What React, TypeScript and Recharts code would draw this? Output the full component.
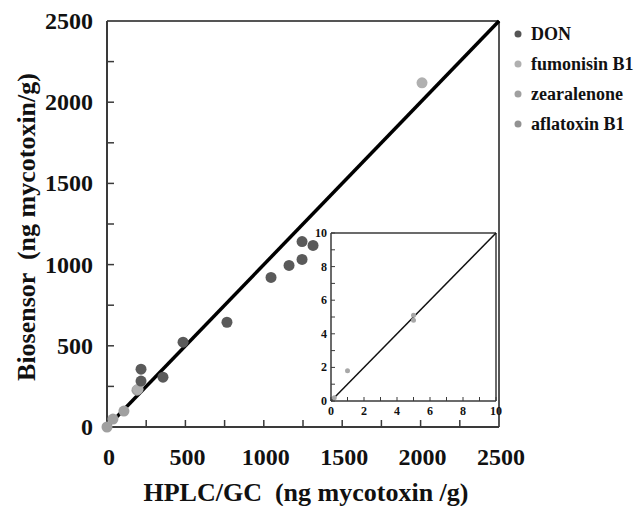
import React from 'react';
import {
  ScatterChart,
  Scatter,
  XAxis,
  YAxis,
  ReferenceLine,
} from 'recharts';

// main plot, ng mycotoxin / g : [HPLC/GC, Biosensor]
const donPoints = [
  [217, 283], [217, 356], [357, 307], [485, 522], [765, 645],
  [1046, 921], [1161, 995], [1244, 1032], [1244, 1142], [1314, 1118],
];
const fumonisinPoints = [[198, 233], [2009, 2119]];
const zearalenonePoints = [[0, 0], [38, 49], [108, 98], [191, 227]];

// inset, low range (aflatoxin B1)
const aflatoxinPoints = [[0.2, 0.2], [1, 1.8], [5, 5.1], [5, 4.8]];

const mainTicks = [0, 250, 500, 750, 1000, 1250, 1500, 1750, 2000, 2250, 2500];
const mainLabels = [0, 500, 1000, 1500, 2000, 2500];
const insetTicks = [0, 1, 2, 3, 4, 5, 6, 7, 8, 9, 10];
const insetLabels = [0, 2, 4, 6, 8, 10];

const legendItems = [
  { name: 'DON', color: '#555555' },
  { name: 'fumonisin B1', color: '#b0b0b0' },
  { name: 'zearalenone', color: '#a0a0a0' },
  { name: 'aflatoxin B1', color: '#929292' },
];

const toXY = (pts: number[][]) => pts.map(([x, y]) => ({ x, y }));

const FONT = '"Liberation Serif", "Times New Roman", serif';
const AXIS = '#3a3a3a';

const dot = (color: string, r: number) => (props: any) => {
  const { cx, cy } = props;
  if (cx == null || cy == null) return <g />;
  return <circle cx={cx} cy={cy} r={r} fill={color} />;
};

const MainXTick = (props: any) => {
  const { x, y, payload } = props;
  const show = mainLabels.includes(payload.value);
  return (
    <g>
      {payload.value !== 0 && payload.value !== 2500 && (
        <line x1={x} y1={y} x2={x} y2={y - 7} stroke={AXIS} strokeWidth={1.5} />
      )}
      {show && (
        <text x={x + 2} y={y + 38} textAnchor="middle" fontFamily={FONT} fontWeight="bold" fontSize={24} fill="#111">
          {payload.value}
        </text>
      )}
    </g>
  );
};

const MainYTick = (props: any) => {
  const { x, y, payload } = props;
  const show = mainLabels.includes(payload.value);
  return (
    <g>
      {payload.value !== 0 && payload.value !== 2500 && (
        <line x1={x} y1={y} x2={x + 7} y2={y} stroke={AXIS} strokeWidth={1.5} />
      )}
      {show && (
        <text x={x - 14} y={y + 8} textAnchor="end" fontFamily={FONT} fontWeight="bold" fontSize={24} fill="#111">
          {payload.value}
        </text>
      )}
    </g>
  );
};

const InsetXTick = (props: any) => {
  const { x, y, payload } = props;
  const show = insetLabels.includes(payload.value);
  return (
    <g>
      <line x1={x} y1={y} x2={x} y2={y - 4} stroke={AXIS} strokeWidth={1} />
      {show && (
        <text x={x} y={y + 14} textAnchor="middle" fontFamily={FONT} fontWeight="bold" fontSize={12} fill="#111">
          {payload.value}
        </text>
      )}
    </g>
  );
};

const InsetYTick = (props: any) => {
  const { x, y, payload } = props;
  const show = insetLabels.includes(payload.value);
  return (
    <g>
      <line x1={x} y1={y} x2={x + 4} y2={y} stroke={AXIS} strokeWidth={1} />
      {show && (
        <text x={x - 4} y={y + 4} textAnchor="end" fontFamily={FONT} fontWeight="bold" fontSize={12} fill="#111">
          {payload.value}
        </text>
      )}
    </g>
  );
};

const App = () => {
  return (
    <div style={{ position: 'relative', width: 640, height: 506, background: '#fff' }}>
      <style>{'body{margin:0}'}</style>

      <ScatterChart width={640} height={506} margin={{ top: 21, right: 141, bottom: 0, left: 0 }}>
        <XAxis
          type="number"
          dataKey="x"
          domain={[0, 2500]}
          ticks={mainTicks}
          interval={0}
          height={79}
          tickSize={0}
          tickMargin={0}
          tick={<MainXTick />}
          axisLine={{ stroke: AXIS, strokeWidth: 2 }}
        />
        <YAxis
          type="number"
          dataKey="y"
          domain={[0, 2500]}
          ticks={mainTicks}
          interval={0}
          width={107}
          tickSize={0}
          tickMargin={0}
          tick={<MainYTick />}
          axisLine={{ stroke: AXIS, strokeWidth: 2 }}
        />
        <ReferenceLine y={2500} stroke="#555" strokeWidth={2} />
        <ReferenceLine x={2500} stroke="#555" strokeWidth={2} />
        <ReferenceLine
          segment={[{ x: 0, y: 0 }, { x: 2500, y: 2500 }]}
          stroke="#000"
          strokeWidth={3.5}
        />
        <Scatter data={toXY(zearalenonePoints)} shape={dot('#a0a0a0', 5.5)} isAnimationActive={false} />
        <Scatter data={toXY(fumonisinPoints)} shape={dot('#b0b0b0', 5.5)} isAnimationActive={false} />
        <Scatter data={toXY(donPoints)} shape={dot('#5a5a5a', 5.5)} isAnimationActive={false} />
      </ScatterChart>

      <div style={{ position: 'absolute', left: 300, top: 225 }}>
        <ScatterChart width={205} height={200} margin={{ top: 8, right: 9, bottom: 0, left: 0 }}>
          <XAxis
            type="number"
            dataKey="x"
            domain={[0, 10]}
            ticks={insetTicks}
            interval={0}
            height={24}
            tickSize={0}
            tickMargin={0}
            tick={<InsetXTick />}
            axisLine={{ stroke: AXIS, strokeWidth: 1.5 }}
          />
          <YAxis
            type="number"
            dataKey="y"
            domain={[0, 10]}
            ticks={insetTicks}
            interval={0}
            width={31}
            tickSize={0}
            tickMargin={0}
            tick={<InsetYTick />}
            axisLine={{ stroke: AXIS, strokeWidth: 1.5 }}
          />
          <ReferenceLine y={10} stroke={AXIS} strokeWidth={1.5} />
          <ReferenceLine x={10} stroke={AXIS} strokeWidth={1.5} />
          <ReferenceLine segment={[{ x: 0, y: 0 }, { x: 10, y: 10 }]} stroke="#111" strokeWidth={1.5} />
          <Scatter data={toXY(aflatoxinPoints)} shape={dot('#a8a8a8', 2.5)} isAnimationActive={false} />
        </ScatterChart>
      </div>

      <svg width={640} height={506} style={{ position: 'absolute', left: 0, top: 0, pointerEvents: 'none' }}>
        <text
          x={306}
          y={501}
          textAnchor="middle"
          fontFamily={FONT}
          fontWeight="bold"
          fontSize={26}
          fill="#111"
          style={{ whiteSpace: 'pre' }}
        >
          {'HPLC/GC  (ng mycotoxin /g)'}
        </text>
        <text
          x={35}
          y={227}
          transform="rotate(-90 35 227)"
          textAnchor="middle"
          fontFamily={FONT}
          fontWeight="bold"
          fontSize={26}
          fill="#111"
          style={{ whiteSpace: 'pre' }}
        >
          {'Biosensor  (ng mycotoxin/g)'}
        </text>
        {legendItems.map((item, i) => (
          <g key={item.name}>
            <circle cx={518} cy={34 + i * 30} r={3.5} fill={item.color} />
            <text x={531} y={40 + i * 30} fontFamily={FONT} fontWeight="bold" fontSize={18} fill="#111">
              {item.name}
            </text>
          </g>
        ))}
      </svg>
    </div>
  );
};

export default App;
